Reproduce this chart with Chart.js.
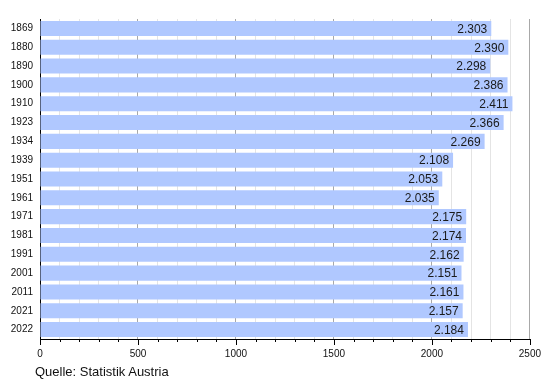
<!DOCTYPE html>
<html>
<head>
<meta charset="utf-8">
<script src="https://cdn.jsdelivr.net/npm/chart.js@4/dist/chart.umd.min.js"></script>
<style>
  html, body { margin: 0; padding: 0; background: #fff; }
  #wrap { position: relative; width: 550px; height: 380px; }
  #src { position: absolute; left: 35px; top: 364px; font: 13px "Liberation Sans", Arial, sans-serif; color: #111; line-height: 15px; }
</style>
</head>
<body>
<div id="wrap">
  <canvas id="c" width="550" height="380"></canvas>
  <div id="src">Quelle: Statistik Austria</div>
</div>
<script>
const years = ["1869","1880","1890","1900","1910","1923","1934","1939","1951","1961","1971","1981","1991","2001","2011","2021","2022"];
const population = [2303, 2390, 2298, 2386, 2411, 2366, 2269, 2108, 2053, 2035, 2175, 2174, 2162, 2151, 2161, 2157, 2184];
const xTickValues = [0, 500, 1000, 1500, 2000, 2500];

const FONT = '"Liberation Sans", Arial, sans-serif';

function fmt(v) {
  return String(v).replace(/\B(?=(\d{3})+(?!\d))/g, '.');
}

const valueLabels = {
  id: 'valueLabels',
  afterDatasetsDraw(chart) {
    const ctx = chart.ctx;
    const meta = chart.getDatasetMeta(0);
    ctx.save();
    ctx.font = '12px ' + FONT;
    ctx.fillStyle = '#1a1a1a';
    ctx.textAlign = 'right';
    ctx.textBaseline = 'middle';
    meta.data.forEach((bar, i) => {
      ctx.fillText(fmt(population[i]), bar.x - 4, bar.y + 1);
    });
    ctx.restore();
  }
};

const xTicks = {
  id: 'xTicks',
  afterDraw(chart) {
    const sc = chart.scales.x;
    const ctx = chart.ctx;
    const y0 = chart.chartArea.bottom;
    ctx.save();
    ctx.strokeStyle = '#000';
    ctx.lineWidth = 1;
    for (let v = 0; v <= 2500; v += 100) {
      const x = Math.round(sc.getPixelForValue(v)) + 0.5;
      const len = (v % 500 === 0) ? 6 : 3;
      ctx.beginPath();
      ctx.moveTo(x, y0);
      ctx.lineTo(x, y0 + len);
      ctx.stroke();
    }
    ctx.restore();
  }
};

new Chart(document.getElementById('c'), {
  type: 'bar',
  data: {
    labels: years,
    datasets: [{
      data: population,
      backgroundColor: '#b0c8ff',
      borderWidth: 0,
      barPercentage: 0.8,
      categoryPercentage: 1.0
    }]
  },
  options: {
    indexAxis: 'y',
    responsive: false,
    animation: false,
    layout: { padding: { top: 19, right: 20, left: 0, bottom: 0 } },
    plugins: { legend: { display: false }, tooltip: { enabled: false } },
    scales: {
      x: {
        min: 0, max: 2500,
        afterBuildTicks(scale) {
          const t = [];
          for (let v = 0; v <= 2500; v += 100) t.push({ value: v });
          scale.ticks = t;
        },
        afterFit(scale) { scale.height = 41; },
        grid: {
          drawTicks: false,
          color: (c) => (c.tick && c.tick.value % 500 === 0) ? '#a8a8a8' : '#e4e4e4',
          lineWidth: 1
        },
        border: { display: true, color: '#000', width: 1 },
        ticks: {
          autoSkip: false,
          maxRotation: 0,
          padding: 9,
          color: '#111',
          font: { family: FONT, size: 10 },
          callback: (v) => (xTickValues.includes(v) ? String(v) : '')
        }
      },
      y: {
        afterFit(scale) { scale.width = 40; },
        grid: { display: false, drawTicks: false },
        border: { display: true, color: '#000', width: 1 },
        ticks: {
          padding: 7,
          color: '#111',
          font: { family: FONT, size: 10 }
        }
      }
    }
  },
  plugins: [valueLabels, xTicks]
});
</script>
</body>
</html>
